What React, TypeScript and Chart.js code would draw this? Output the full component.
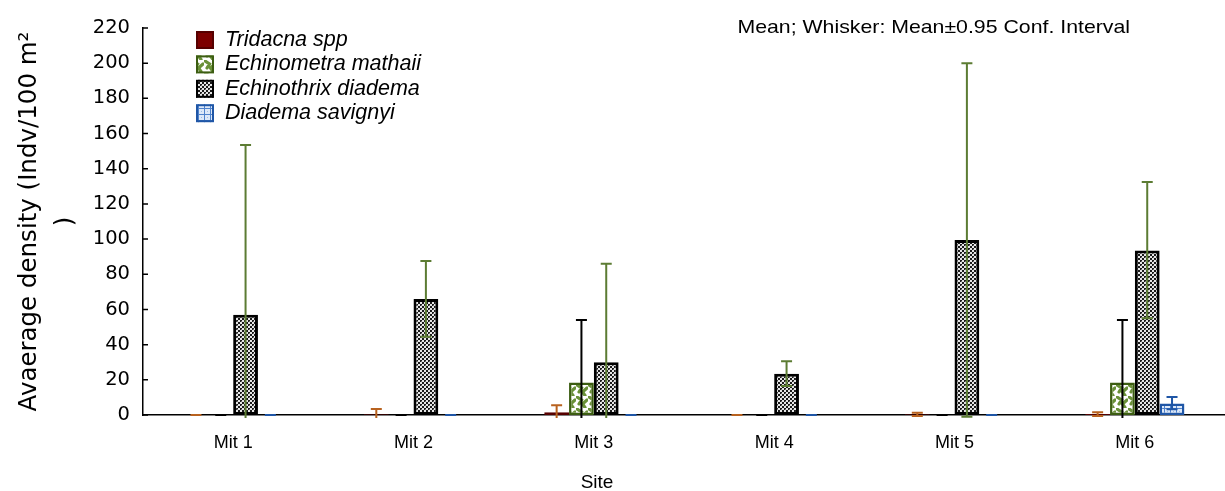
import React, { useEffect, useRef } from 'react';
import { Chart, registerables } from 'chart.js';

Chart.register(...registerables);

// ---------- data ----------
const sites = ['Mit 1', 'Mit 2', 'Mit 3', 'Mit 4', 'Mit 5', 'Mit 6'];
const seriesNames = ['Tridacna spp', 'Echinometra mathaii', 'Echinothrix diadema', 'Diadema savignyi'];

const tridacnaMean = [0, 0.4, 1.5, 0, 0.4, 0.5];
const tridacnaUpper = [0, 3.4, 5.6, 0, 1.3, 1.5];
const tridacnaLower = [0, -2.6, -2.6, 0, -0.5, -0.5];

const echinometraMean = [0, 0, 18.5, 0, 0, 18.5];
const echinometraUpper = [0, 0, 54, 0, 0, 54];
const echinometraLower = [0, 0, -17, 0, 0, -17];

const echinothrixMean = [57, 66, 30, 23.5, 99.5, 93.5];
const echinothrixUpper = [153.5, 87.5, 86, 30.5, 200, 132.5];
const echinothrixLower = [-39, 44.5, -26, 16.5, -1, 55];

const diademaMean = [0, 0, 0, 0, 0, 6.5];
const diademaUpper = [0, 0, 0, 0, 0, 10.3];
const diademaLower = [0, 0, 0, 0, 0, 3.2];

const yTickValues = [0, 20, 40, 60, 80, 100, 120, 140, 160, 180, 200, 220];
const chartNote = 'Mean; Whisker: Mean\u00b10.95 Conf. Interval';
const yTitle = ['Avaerage density (Indv/100 m\u00b2', ')'];
const xTitle = 'Site';

// ---------- patterns ----------
function makePattern(size: number, bg: string, draw: (g: CanvasRenderingContext2D) => void) {
  const c = document.createElement('canvas');
  c.width = size;
  c.height = size;
  const g = c.getContext('2d') as CanvasRenderingContext2D;
  g.fillStyle = bg;
  g.fillRect(0, 0, size, size);
  draw(g);
  return g.createPattern(c, 'repeat') as CanvasPattern;
}

function buildFills() {
  const tridacna = '#7d0000';
  const echinometra = makePattern(12, '#ffffff', (g) => {
    g.strokeStyle = '#6a9138';
    g.lineWidth = 3.2;
    g.lineCap = 'round';
    g.beginPath();
    g.moveTo(1, 1); g.lineTo(5.5, 4); g.lineTo(3, 8);
    g.moveTo(11, 4); g.lineTo(6.5, 8); g.lineTo(9, 11.5);
    g.stroke();
  });
  const echinothrix = makePattern(4, '#e6e6e6', (g) => {
    g.fillStyle = '#1a1a1a';
    g.fillRect(0, 0, 2, 2);
    g.fillRect(2, 2, 2, 2);
    g.fillStyle = '#777';
    g.fillRect(1, 1, 1, 1);
  });
  const diadema = makePattern(6, '#dce8f8', (g) => {
    g.fillStyle = '#4f82cc';
    g.fillRect(0, 0, 6, 1);
    g.fillRect(0, 0, 1, 6);
    g.fillStyle = '#9dbbe6';
    g.fillRect(3, 3, 1, 1);
  });
  return [tridacna, echinometra, echinothrix, diadema];
}

const borderColors = ['#560000', '#3c5d12', '#000000', '#1f56a6'];
const whiskerColors = ['#b8621f', '#000000', '#5c7c33', '#1f56a6'];
const borderWidths = [2, 2.5, 3, 2.5];

export default function App() {
  const ref = useRef<HTMLCanvasElement | null>(null);

  useEffect(() => {
    if (!ref.current) return;
    const fills = buildFills();
    const means = [tridacnaMean, echinometraMean, echinothrixMean, diademaMean];
    const uppers = [tridacnaUpper, echinometraUpper, echinothrixUpper, diademaUpper];
    const lowers = [tridacnaLower, echinometraLower, echinothrixLower, diademaLower];

    const whiskerPlugin = {
      id: 'whiskers',
      afterDatasetsDraw(chart: any) {
        const ctx = chart.ctx as CanvasRenderingContext2D;
        const ys = chart.scales.y;
        const a = chart.chartArea;
        ctx.save();
        ctx.beginPath();
        ctx.rect(a.left, a.top - 6, a.right - a.left, a.bottom - a.top + 9);
        ctx.clip();
        for (let i = 0; i < means.length; i++) {
          const meta = chart.getDatasetMeta(i);
          meta.data.forEach((el: any, j: number) => {
            const x = el.x;
            const yu = ys.getPixelForValue(uppers[i][j]);
            const yl = ys.getPixelForValue(lowers[i][j]);
            ctx.strokeStyle = whiskerColors[i];
            ctx.lineWidth = 2;
            ctx.beginPath();
            ctx.moveTo(x, yu);
            ctx.lineTo(x, yl);
            ctx.moveTo(x - 5.5, yu);
            ctx.lineTo(x + 5.5, yu);
            ctx.moveTo(x - 5.5, yl);
            ctx.lineTo(x + 5.5, yl);
            ctx.stroke();
          });
        }
        ctx.restore();
      },
    };

    const decorPlugin = {
      id: 'decor',
      afterDraw(chart: any) {
        const ctx = chart.ctx as CanvasRenderingContext2D;
        const a = chart.chartArea;
        const ys = chart.scales.y;
        ctx.save();
        // inward y tick marks
        ctx.strokeStyle = '#000';
        ctx.lineWidth = 1.5;
        ctx.beginPath();
        yTickValues.forEach((v) => {
          const y = ys.getPixelForValue(v);
          ctx.moveTo(a.left, y);
          ctx.lineTo(a.left + 5, y);
        });
        ctx.stroke();

        // legend
        const lx = a.left + 53;
        let ly = a.top + 3;
        const rowH = 24.4;
        ctx.font = 'italic 21.5px "Liberation Sans", Arial, sans-serif';
        ctx.textBaseline = 'middle';
        ctx.textAlign = 'left';
        for (let i = 0; i < seriesNames.length; i++) {
          ctx.fillStyle = fills[i] as any;
          ctx.fillRect(lx, ly, 18, 18);
          ctx.strokeStyle = borderColors[i];
          ctx.lineWidth = 2;
          ctx.strokeRect(lx + 1, ly + 1, 16, 16);
          ctx.fillStyle = '#000';
          ctx.fillText(seriesNames[i], lx + 29, ly + 9);
          ly += rowH;
        }

        // note
        ctx.font = '19px "Liberation Sans", Arial, sans-serif';
        ctx.textAlign = 'right';
        ctx.save();
        ctx.translate(a.right - 95, a.top);
        ctx.scale(1.12, 1);
        ctx.fillText(chartNote, 0, 0);
        ctx.restore();

        // x title
        ctx.font = '19px "Liberation Sans", Arial, sans-serif';
        ctx.textAlign = 'center';
        ctx.fillText(xTitle, 597, a.bottom + 68);
        ctx.restore();
      },
    };

    const chart = new Chart(ref.current, {
      type: 'bar',
      data: {
        labels: sites,
        datasets: seriesNames.map((name, i) => ({
          label: name,
          data: means[i],
          backgroundColor: fills[i] as any,
          borderColor: borderColors[i],
          borderWidth: borderWidths[i],
          borderSkipped: false as any,
          categoryPercentage: 0.55,
          barPercentage: 1.0,
        })),
      },
      options: {
        animation: false,
        responsive: true,
        maintainAspectRatio: false,
        layout: { padding: { top: 28, left: 0, right: 0, bottom: 0 } },
        plugins: {
          legend: { display: false },
          tooltip: { enabled: false },
          title: { display: false },
        },
        scales: {
          x: {
            grid: { display: false, drawTicks: false },
            border: { display: true, color: '#000', width: 1.5 },
            ticks: {
              color: '#000',
              padding: 17,
              font: { family: '"Liberation Sans", Arial, sans-serif', size: 18 },
            },
            afterFit(scale: any) {
              scale.height = 76;
            },
          },
          y: {
            min: 0,
            max: 220,
            grid: { display: false, drawTicks: false },
            border: { display: true, color: '#000', width: 1.5 },
            ticks: {
              stepSize: 20,
              color: '#000',
              padding: 13,
              font: { family: '"DejaVu Sans", sans-serif', size: 19.5 },
            },
            title: {
              display: true,
              text: yTitle,
              color: '#000',
              padding: { top: 11, bottom: 0 },
              font: { family: '"DejaVu Sans", sans-serif', size: 24.5, lineHeight: 1.5 },
            },
            afterFit(scale: any) {
              scale.width = 143;
            },
          },
        },
      },
      plugins: [whiskerPlugin, decorPlugin],
    });
    return () => chart.destroy();
  }, []);

  return (
    <div style={{ position: 'fixed', left: 0, top: 0, width: 1225, height: 491, background: '#fff' }}>
      <canvas ref={ref} />
    </div>
  );
}
